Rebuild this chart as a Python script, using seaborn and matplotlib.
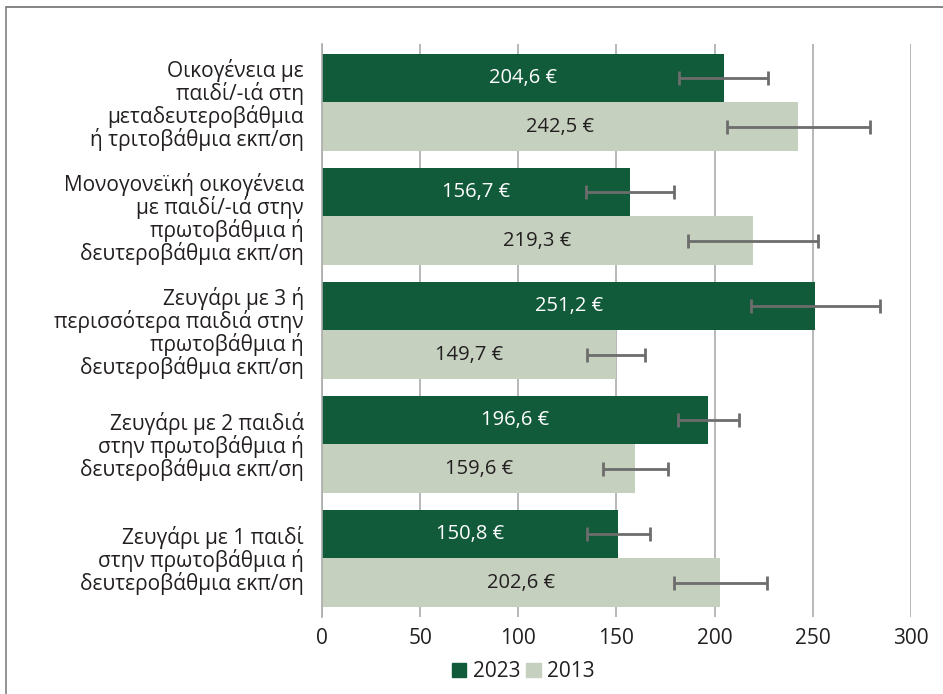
import pandas as pd
import matplotlib.pyplot as plt
import seaborn as sns
from matplotlib.patches import Rectangle
from matplotlib.lines import Line2D

sns.set_theme(style='white')
plt.rcParams['font.family'] = ['Open Sans', 'DejaVu Sans']

categories = [
    'Οικογένεια με\nπαιδί/-ιά στη\nμεταδευτεροβάθμια\nή τριτοβάθμια εκπ/ση',
    'Μονογονεϊκή οικογένεια\nμε παιδί/-ιά στην\nπρωτοβάθμια ή\nδευτεροβάθμια εκπ/ση',
    'Ζευγάρι με 3 ή\nπερισσότερα παιδιά στην\nπρωτοβάθμια ή\nδευτεροβάθμια εκπ/ση',
    'Ζευγάρι με 2 παιδιά\nστην πρωτοβάθμια ή\nδευτεροβάθμια εκπ/ση',
    'Ζευγάρι με 1 παιδί\nστην πρωτοβάθμια ή\nδευτεροβάθμια εκπ/ση',
]
years = ['2023', '2013']
val_2023 = [204.6, 156.7, 251.2, 196.6, 150.8]
val_2013 = [242.5, 219.3, 149.7, 159.6, 202.6]
# confidence interval ends
lo_2023 = [182.1, 134.7, 218.7, 181.1, 134.9]
hi_2023 = [227.3, 179.1, 284.2, 212.5, 166.9]
lo_2013 = [206.4, 186.5, 134.9, 143.1, 179.3]
hi_2013 = [279.0, 252.6, 164.7, 176.4, 226.5]

dark = '#115A3A'
light = '#C5D0BF'

df = pd.DataFrame({
    'cat': categories * 2,
    'year': [years[0]] * 5 + [years[1]] * 5,
    'value': val_2023 + val_2013,
})

fig = plt.figure(figsize=(9.43, 6.94), dpi=100)
ax = fig.add_axes([0.3415, 0.111, 0.6245, 0.8256])

sns.barplot(data=df, y='cat', x='value', hue='year', orient='h',
            palette=[dark, light], saturation=1, width=0.85, gap=0,
            linewidth=0, errorbar=None, ax=ax, legend=False)

ax.set_xlim(0, 300)
ax.set_ylim(4.513, -0.513)
ax.set_xticks([0, 50, 100, 150, 200, 250, 300])
ax.grid(axis='x', color='#ababab', linewidth=1.2)
ax.set_axisbelow(True)
for s in ['top', 'right', 'bottom']:
    ax.spines[s].set_visible(False)
ax.spines['left'].set_color('#ababab')
ax.spines['left'].set_linewidth(1.2)
ax.tick_params(axis='both', length=0, labelsize=15, colors='#231F20')
ax.tick_params(axis='x', pad=8)
ax.tick_params(axis='y', pad=13)
ax.set_xlabel('')
ax.set_ylabel('')
for t in ax.get_yticklabels():
    t.set_multialignment('right')
    t.set_linespacing(1.0)

lows = [lo_2023, lo_2013]
highs = [hi_2023, hi_2013]
txt_cols = ['white', '#231F20']
bar_conts = list(ax.containers)
for i, cont in enumerate(bar_conts):
    vals = [p.get_width() for p in cont.patches]
    ys = [p.get_y() + p.get_height() / 2 for p in cont.patches]
    xerr = [[v - l for v, l in zip(vals, lows[i])],
            [h - v for v, h in zip(vals, highs[i])]]
    ax.errorbar(vals, ys, xerr=xerr, fmt='none', ecolor='#6d6d6d',
                elinewidth=2, capsize=5, capthick=2, zorder=5)
    ax.bar_label(cont, labels=[f'{v:.1f} €'.replace('.', ',') for v in vals],
                 label_type='center', color=txt_cols[i], fontsize=14.5)

handles = [Rectangle((0, 0), 1, 1, color=dark), Rectangle((0, 0), 1, 1, color=light)]
fig.legend(handles, years, loc='center', bbox_to_anchor=(0.555, 0.032), ncol=2,
           frameon=False, fontsize=15, handlelength=0.7, handleheight=0.7,
           handletextpad=0.3, columnspacing=0.3, labelcolor='#231F20')

# frame: left and top edges only
bx, by = 5.5 / 943, 1 - 7 / 694
fig.add_artist(Line2D([bx, 1], [by, by], transform=fig.transFigure,
                      color='#707070', linewidth=1.2))
fig.add_artist(Line2D([bx, bx], [0, by], transform=fig.transFigure,
                      color='#808080', linewidth=1.2))

fig.savefig('out.png', dpi=100)
